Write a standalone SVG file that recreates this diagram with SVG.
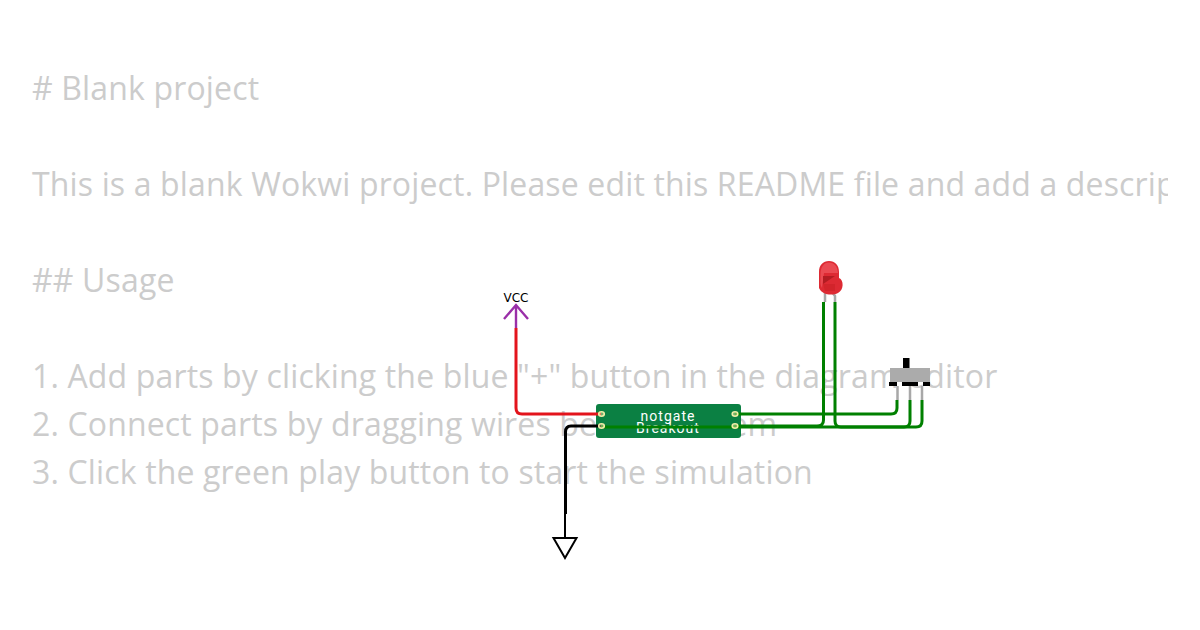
<svg xmlns="http://www.w3.org/2000/svg" width="1200" height="630" viewBox="0 0 1200 630">
<style>
.md{font-family:"Open Sans","Noto Sans","Liberation Sans",sans-serif;font-size:32px;letter-spacing:.15px;fill:#cccccc}
.w{fill:none;stroke-width:3;stroke-linejoin:round}
.g{stroke:#008000}
.pin{fill:#f3eda8;fill-opacity:.45;stroke:#f3eda8;stroke-width:1.600}
.lead{fill:none;stroke:#a8a8a8;stroke-width:2.500}
.lbl{font-family:Roboto,"Liberation Sans",sans-serif;font-size:14px;letter-spacing:1px;fill:#fff;text-anchor:middle}
</style>
<defs><clipPath id="clip"><rect x="0" y="0" width="1168" height="630"/></clipPath></defs>
<rect width="1200" height="630" fill="#fff"/>
<g id="readme" clip-path="url(#clip)">
<text class="md" x="32" y="100"># Blank project</text>
<text class="md" x="32" y="196">This is a blank Wokwi project. Please edit this README file and add a description of your design.</text>
<text class="md" x="32" y="292">## Usage</text>
<text class="md" x="32" y="388">1. Add parts by clicking the blue "+" button in the diagram editor</text>
<text class="md" x="32" y="436">2. Connect parts by dragging wires between them</text>
<text class="md" x="32" y="484">3. Click the green play button to start the simulation</text>
</g>
<g id="board">
<rect x="596" y="404" width="145" height="34" rx="3" fill="#0b8043"/>
<text class="lbl" x="668" y="421">notgate</text>
<text class="lbl" x="668" y="433">Breakout</text>
</g>
<g id="vcc">
<text x="516" y="302" text-anchor="middle" font-family="'DejaVu Sans',sans-serif" font-size="12" fill="#000">VCC</text>
<path d="M504 319L516 305L528 319M516 305V328" fill="none" stroke="#9a2fa8" stroke-width="2.400"/>
</g>
<g id="gnd">
<path d="M565 514V537" fill="none" stroke="#000" stroke-width="2"/>
<path d="M553.500 538H576.500L565 558Z" fill="#fff" stroke="#000" stroke-width="2"/>
</g>
<g id="led">
<path class="lead" d="M825 292V302M832 292L835 296V302"/>
<path d="M819 288V272C819 265 823 261 829 261C835 261 839 265 839 272V278C844 280 844 290 838 293C832 296 822 295 819 288Z" fill="#dd2a33"/>
<path d="M820.500 274C820.500 267 824 262.500 829 262.500C834 262.500 837.500 266 838 273H824L822 288C821 286 820.500 285 820.500 283Z" fill="#ea4a52"/>
<path d="M823 276H835L823 284Z" fill="#b21c22"/>
<path d="M823 284H835V291H825Z" fill="#d2242b"/>
</g>
<g id="switch">
<rect x="903" y="358" width="6.500" height="11" fill="#000"/>
<rect x="890" y="368" width="40" height="14" fill="#ababab"/>
<path d="M889 384H897M902 384H918M923 384H930" stroke="#000" stroke-width="4"/>
<path class="lead" d="M897.500 386V400M910 386V400M922 386V400"/>
</g>
<g id="connectors">
<path class="w" d="M516 328V408Q516 414 522 414H601" stroke="#e3141c"/>
<path class="w" d="M601 426H571Q565.500 426 565.500 432V514" stroke="#000"/>
<path class="w g" d="M735 414H891Q897 414 897 408V400"/>
<path class="w g" d="M601 427H904Q910 427 910 421V400"/>
<path class="w g" d="M735 426H817Q823.500 426 823.500 420V302"/>
<path class="w g" d="M835 302V421Q835 427 841 427H916Q922 427 922 421V400"/>
</g>
<g id="pins">
<ellipse class="pin" cx="601.500" cy="414" rx="2.800" ry="2.200"/>
<ellipse class="pin" cx="601.500" cy="426" rx="2.800" ry="2.200"/>
<ellipse class="pin" cx="735" cy="414" rx="2.800" ry="2.200"/>
<ellipse class="pin" cx="735" cy="426" rx="2.800" ry="2.200"/>
</g>
</svg>
